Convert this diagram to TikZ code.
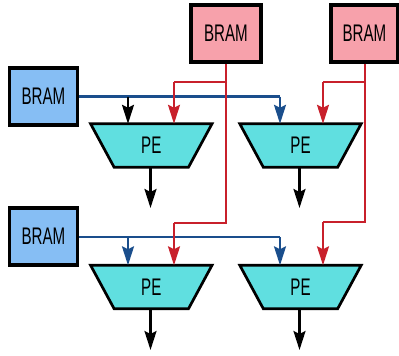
\documentclass[tikz,border=0pt]{standalone}
\usepackage{fontspec}
\newfontfamily\condfont[FakeStretch=0.63]{Liberation Sans}
\usetikzlibrary{arrows.meta,calc}
\definecolor{bramblue}{HTML}{86BEF4}
\definecolor{brampink}{HTML}{F7A1AB}
\definecolor{pecyan}{HTML}{60DFE0}
\definecolor{wireblue}{HTML}{1A4E8C}
\definecolor{wirered}{HTML}{C8202B}
\tikzset{
  bramnode/.style={draw=black, line width=3.2pt, minimum width=68pt, minimum height=57pt, inner sep=0pt, font=\condfont\fontsize{24}{24}\selectfont},
  penode/.style={minimum width=121pt, minimum height=43pt, inner sep=0pt, font=\condfont\fontsize{24}{24}\selectfont},
  pebody/.style={draw=black, fill=pecyan, line width=2.7pt, line join=miter},
  arr/.style={line width=2.3pt, -{Stealth[length=19pt,width=12pt,inset=3pt]}},
  wire/.style={line width=2.3pt},
}
\begin{document}
\begin{tikzpicture}[x=1pt,y=-1pt]
\useasboundingbox (0,0) rectangle (399,356);
% BRAM nodes
\node[bramnode, fill=bramblue] (bramL1) at (43.5,96.5) {BRAM};
\node[bramnode, fill=bramblue] (bramL2) at (43.5,236.5) {BRAM};
\node[bramnode, fill=brampink, minimum width=70pt] (bramT1) at (226,33.5) {BRAM};
\node[bramnode, fill=brampink, minimum width=67pt] (bramT2) at (364.5,33.5) {BRAM};
% PE nodes
\foreach \n/\x/\y in {pe1/151.3/145.5, pe2/300.5/145.5, pe3/151.3/287, pe4/300.5/287}{
  \node[penode] (\n) at (\x,\y) {};
  \draw[pebody] (\n.north west) -- (\n.north east) -- ([xshift=-23.5pt]\n.south east) -- ([xshift=23.5pt]\n.south west) -- cycle;
  \node[penode] at (\n) {PE};
}
% junction coordinates
\coordinate (b1) at (128,96.5);
\coordinate (b1e) at (280,96.5);
\coordinate (b2) at (128,237);
\coordinate (b2e) at (280,237);
\coordinate (rA) at (226,82);
\coordinate (rAl) at (174,82);
\coordinate (rAb) at (226,223);
\coordinate (rAbl) at (174,223);
\coordinate (rB) at (365,82);
\coordinate (rBl) at (323,82);
\coordinate (rBb) at (365,222);
\coordinate (rBbl) at (323,222);
\coordinate (o1) at (150.5,208);
\coordinate (o2) at (299.5,208);
\coordinate (o3) at (150.5,350);
\coordinate (o4) at (299.5,350);
% blue wires
\draw[wire, wireblue] (bramL1.east |- b1) -- (b1e);
\draw[arr, wireblue] (b1e) -- (b1e |- pe2.north);
\draw[arr, black] (b1) -- (b1 |- pe1.north);
\draw[wire, wireblue] (bramL2.east |- b2) -- (b2e);
\draw[arr, wireblue] (b2e) -- (b2e |- pe4.north);
\draw[arr, wireblue] (b2) -- (b2 |- pe3.north);
% red wires
\draw[wire, wirered] (bramT1.south -| rA) -- (rAb) -- (rAbl);
\draw[arr, wirered] (rAbl) -- (rAbl |- pe3.north);
\draw[wire, wirered] ([xshift=1pt]rA) -- (rAl);
\draw[arr, wirered] (rAl) -- (rAl |- pe1.north);
\draw[wire, wirered] (bramT2.south -| rB) -- (rBb) -- (rBbl);
\draw[arr, wirered] (rBbl) -- (rBbl |- pe4.north);
\draw[wire, wirered] (rB) -- (rBl);
\draw[arr, wirered] (rBl) -- (rBl |- pe2.north);
% outputs
\draw[arr, black] (pe1.south -| o1) -- (o1);
\draw[arr, black] (pe2.south -| o2) -- (o2);
\draw[arr, black] (pe3.south -| o3) -- (o3);
\draw[arr, black] (pe4.south -| o4) -- (o4);
\end{tikzpicture}
\end{document}
